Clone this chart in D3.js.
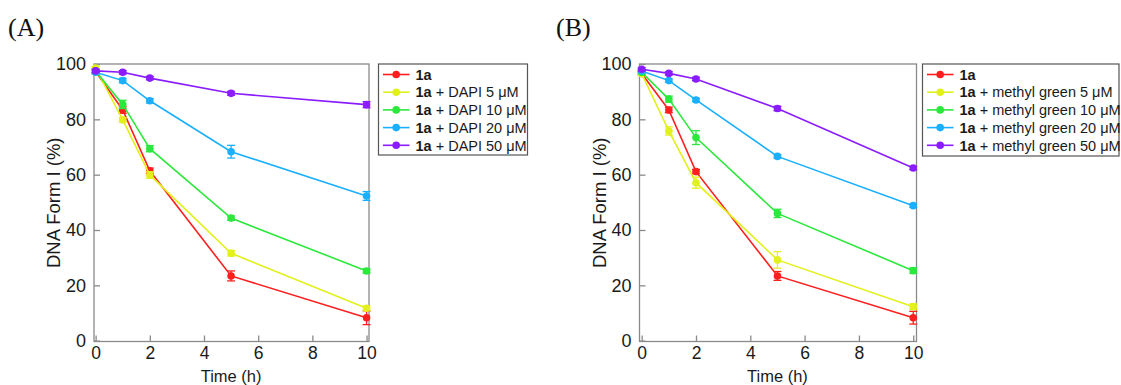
<!DOCTYPE html>
<html>
<head>
<meta charset="utf-8">
<script src="https://cdnjs.cloudflare.com/ajax/libs/d3/7.8.5/d3.min.js"></script>
<style>
  body { margin: 0; background: #fff; }
  svg { font-family: "Liberation Sans", Arial, sans-serif; }
</style>
</head>
<body>
<div class="chart"></div>
<script>
const times = [0, 1, 2, 5, 10];
const xTicks = [0, 2, 4, 6, 8, 10];
const yTicks = [0, 20, 40, 60, 80, 100];
const colors = ['#ff1f1f', '#e2f01c', '#2ce83c', '#1ab0ff', '#8a1cff'];

// panel A: 1a with DAPI
const dapiLabels = ['', ' + DAPI 5 μM', ' + DAPI 10 μM', ' + DAPI 20 μM', ' + DAPI 50 μM'];
const dapiValues = [
  [97.3, 83.4, 61.4, 23.4, 8.3],
  [98.5, 79.8, 59.9, 31.6, 11.7],
  [97.5, 85.4, 69.4, 44.3, 25.2],
  [97.0, 94.0, 86.7, 68.3, 52.3],
  [97.5, 97.0, 94.9, 89.4, 85.3],
];
const dapiErrors = [
  [0.8, 1.2, 1.0, 1.8, 2.5],
  [0.6, 0.8, 1.2, 1.0, 0.8],
  [0.6, 1.5, 1.1, 0.8, 0.8],
  [0.6, 0.8, 0.8, 2.3, 1.6],
  [0.6, 0.6, 0.6, 0.7, 1.1],
];

// panel B: 1a with methyl green
const mgLabels = ['', ' + methyl green 5 μM', ' + methyl green 10 μM', ' + methyl green 20 μM', ' + methyl green 50 μM'];
const mgValues = [
  [96.6, 83.4, 61.1, 23.4, 8.3],
  [96.5, 75.8, 57.1, 29.2, 12.3],
  [97.0, 87.3, 73.4, 46.0, 25.3],
  [97.5, 94.0, 87.0, 66.6, 48.8],
  [98.1, 96.6, 94.6, 83.9, 62.4],
];
const mgErrors = [
  [0.6, 1.0, 0.8, 1.6, 2.3],
  [0.6, 1.5, 2.0, 3.0, 1.0],
  [0.6, 1.1, 2.5, 1.5, 1.0],
  [0.6, 0.6, 0.6, 0.6, 0.6],
  [0.6, 0.6, 0.6, 0.8, 0.6],
];

const svg = d3.select('.chart')
  .append('svg')
  .attr('width', 1121)
  .attr('height', 385);

function panel(opts) {
  const { left, right, top, bottom, xDomain, values, errors, labels, tag, tagX, legend } = opts;

  const x = d3.scaleLinear().domain(xDomain).range([left, right]);
  const y = d3.scaleLinear().domain([-0.3, 100]).range([bottom, top]);

  svg.append('text')
    .attr('x', tagX).attr('y', 36)
    .style('font-family', '"Liberation Serif", "Times New Roman", serif')
    .style('font-size', '26px')
    .attr('fill', '#111')
    .text(tag);

  // frame
  svg.append('rect')
    .attr('x', left).attr('y', top)
    .attr('width', right - left).attr('height', bottom - top)
    .attr('fill', 'none').attr('stroke', '#8a8a8a').attr('stroke-width', 1.3);

  const yAxis = d3.axisLeft(y).tickValues(yTicks).tickSizeInner(-6).tickSizeOuter(0).tickPadding(8);
  const gy = svg.append('g').attr('transform', `translate(${left},0)`).call(yAxis);
  const xAxis = d3.axisBottom(x).tickValues(xTicks).tickSizeInner(-6).tickSizeOuter(0).tickPadding(5.5);
  const gx = svg.append('g').attr('transform', `translate(0,${bottom})`).call(xAxis);
  [gy, gx].forEach(g => {
    g.select('.domain').remove();
    g.selectAll('line').attr('stroke', '#8a8a8a').attr('stroke-width', 1.3);
    g.selectAll('text').style('font-size', '18px').attr('fill', '#1a1a1a');
  });
  gx.selectAll('text').style('font-size', '17.5px');

  svg.append('text')
    .attr('transform', `translate(${left - 40},${(top + bottom) / 2}) rotate(-90)`)
    .attr('text-anchor', 'middle')
    .attr('dy', '0.35em')
    .style('font-size', '18.5px')
    .attr('fill', '#1a1a1a')
    .text('DNA Form I (%)');

  svg.append('text')
    .attr('x', x(5)).attr('y', 381.5)
    .attr('text-anchor', 'middle')
    .style('font-size', '16.5px')
    .attr('fill', '#1a1a1a')
    .text('Time (h)');

  const line = d3.line().x((d, i) => x(times[i])).y(d => y(d));

  values.forEach((series, s) => {
    const g = svg.append('g');
    g.append('path')
      .attr('d', line(series))
      .attr('fill', 'none')
      .attr('stroke', colors[s])
      .attr('stroke-width', 1.6);

    series.forEach((v, i) => {
      const e = errors[s][i];
      const cx = x(times[i]);
      g.append('line')
        .attr('x1', cx).attr('x2', cx)
        .attr('y1', y(v - e)).attr('y2', y(v + e))
        .attr('stroke', colors[s]).attr('stroke-width', 1.3);
      [v - e, v + e].forEach(w => {
        g.append('line')
          .attr('x1', cx - 4).attr('x2', cx + 4)
          .attr('y1', y(w)).attr('y2', y(w))
          .attr('stroke', colors[s]).attr('stroke-width', 1.3);
      });
      g.append('circle')
        .attr('cx', cx).attr('cy', y(v))
        .attr('r', 3.8)
        .attr('fill', colors[s]);
    });
  });

  // legend
  const lg = svg.append('g');
  lg.append('rect')
    .attr('x', legend.x).attr('y', legend.y)
    .attr('width', legend.w).attr('height', legend.h)
    .attr('fill', '#fff').attr('stroke', '#555').attr('stroke-width', 1.2);
  labels.forEach((lab, s) => {
    const ly = legend.y + 10.5 + s * 17.7;
    lg.append('line')
      .attr('x1', legend.x + 4.5).attr('x2', legend.x + 31)
      .attr('y1', ly).attr('y2', ly)
      .attr('stroke', colors[s]).attr('stroke-width', 1.6);
    lg.append('circle')
      .attr('cx', legend.x + 17.7).attr('cy', ly).attr('r', 3.8)
      .attr('fill', colors[s]);
    const t = lg.append('text')
      .attr('x', legend.x + legend.tx).attr('y', ly)
      .attr('dy', '0.36em')
      .style('font-size', '14.5px')
      .attr('fill', '#1a1a1a');
    t.append('tspan').style('font-weight', 'bold').text('1a');
    t.append('tspan').text(lab);
  });
}

panel({
  left: 94, right: 369, top: 64, bottom: 341.5,
  xDomain: [-0.06, 10.09],
  values: dapiValues, errors: dapiErrors, labels: dapiLabels,
  tag: '(A)', tagX: 8,
  legend: { x: 378.5, y: 64, w: 149, h: 91, tx: 37 }
});

panel({
  left: 639.5, right: 916.5, top: 64, bottom: 341.5,
  xDomain: [-0.08, 10.12],
  values: mgValues, errors: mgErrors, labels: mgLabels,
  tag: '(B)', tagX: 556,
  legend: { x: 922.5, y: 64, w: 196.5, h: 92, tx: 37 }
});
</script>
</body>
</html>
